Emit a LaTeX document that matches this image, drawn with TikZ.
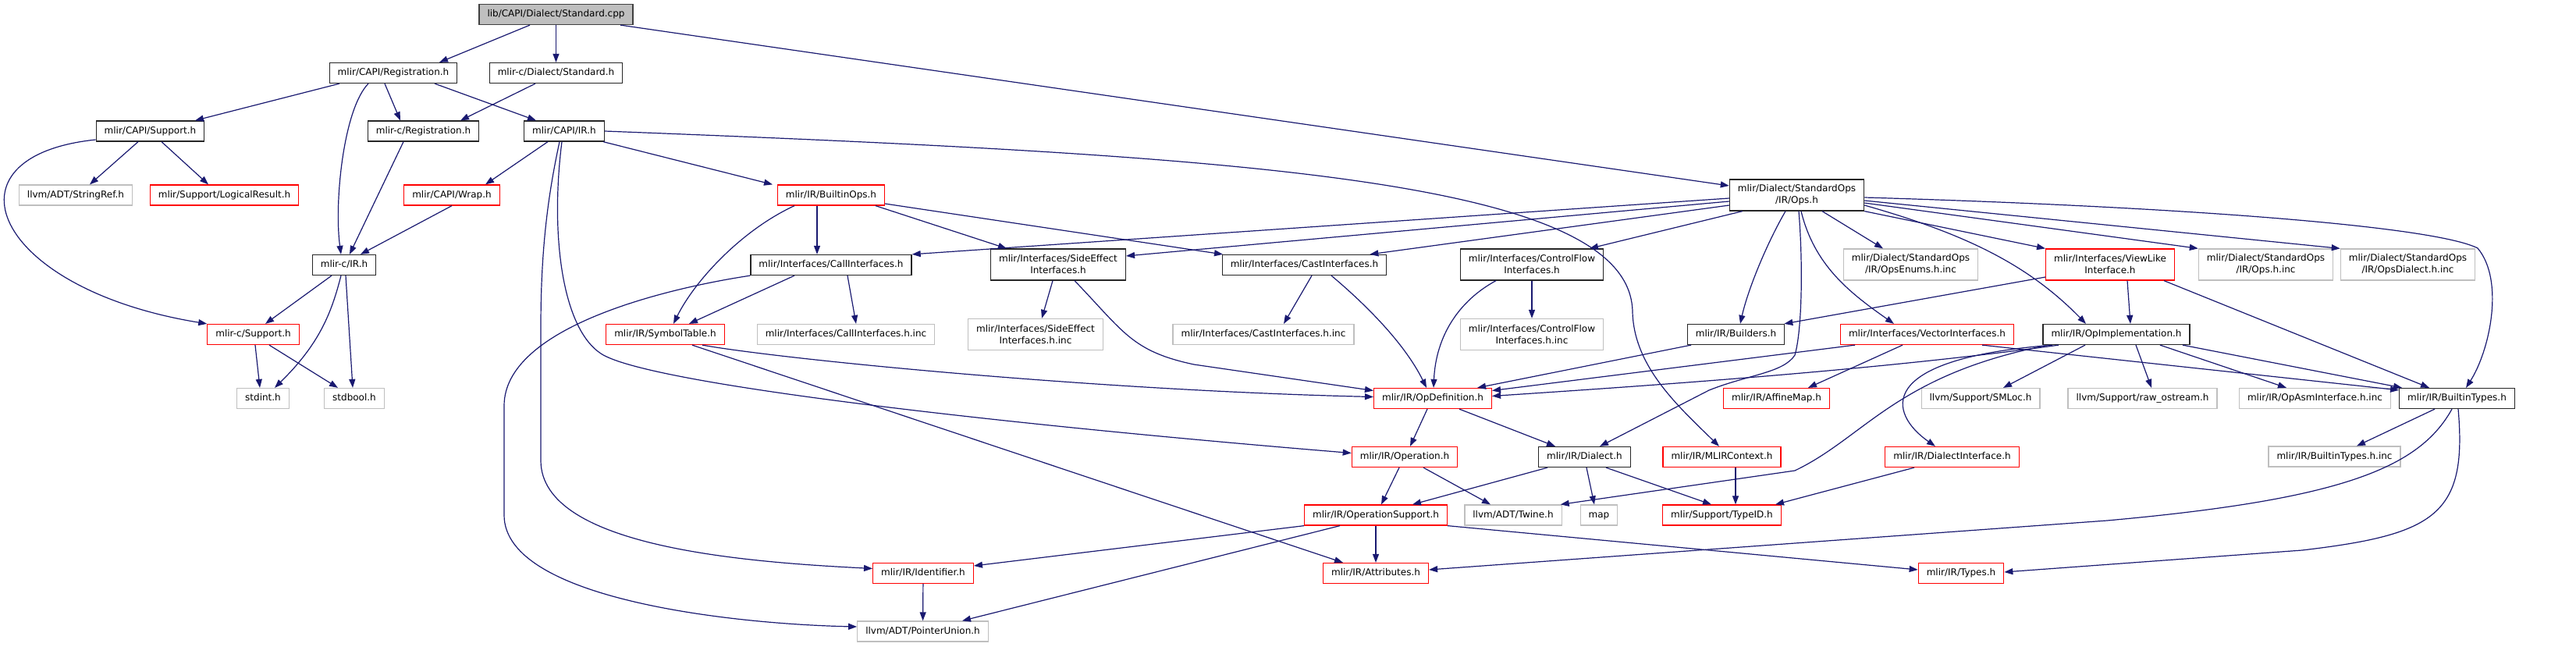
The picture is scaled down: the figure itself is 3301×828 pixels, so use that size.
\documentclass[tikz,border=0pt]{standalone}
\usepackage{fontspec}
\setmainfont{DejaVu Sans}
\usepackage{tikz}
\usetikzlibrary{
  arrows.meta,
  positioning,
  calc
}
\definecolor{navyline}{HTML}{191970}
\definecolor{boxgray}{HTML}{BFBFBF}

\begin{document}
\begin{tikzpicture}[
    x=1pt, y=-1pt,
    >={Triangle[length=11pt,width=8pt]},
    box/.style={draw, line width=1.25pt, inner xsep=10.5pt, inner ysep=2pt,
      font=\fontsize{12}{15}\selectfont},
    one/.style={box, minimum height=26pt, text height=9pt, text depth=2.6pt},
    two/.style={box, align=center, minimum height=40pt},
    ink/.style={draw=black!85},
    trunc/.style={draw=red},
    ext/.style={draw=boxgray},
    src/.style={draw=black!75, fill=boxgray},
    dep/.style={->, draw=navyline, line width=1.2pt}
    ]

    \useasboundingbox (0,0) rectangle (3301,828);

    % linha 0 e 1
    \node[one, src] (stdCpp) at (712.5,18.5) {lib/CAPI/Dialect/Standard.cpp};
    \node[one, ink] (capiReg) at (504,93.5) {mlir/CAPI/Registration.h};
    \node[one, ink] (cStd) at (712.5,93.5) {mlir-c/Dialect/Standard.h};

    % linha 2
    \node[one, ink] (capiSup) at (192.5,168) {mlir/CAPI/Support.h};
    \node[one, ink] (cReg) at (542.5,168) {mlir-c/Registration.h};
    \node[one, ink] (capiIR) at (723,168) {mlir/CAPI/IR.h};

    % linha 3
    \node[one, ext] (strRef) at (97,250) {llvm/ADT/StringRef.h};
    \node[one, trunc] (logRes) at (287.5,250) {mlir/Support/LogicalResult.h};
    \node[one, trunc] (wrapH) at (579,250) {mlir/CAPI/Wrap.h};
    \node[one, trunc] (bOps) at (1065,250) {mlir/IR/BuiltinOps.h};
    \node[two, ink] (opsH) at (2302.5,250) {mlir/Dialect/StandardOps\\/IR/Ops.h};

    % linha 4
    \node[one, ink] (cIR) at (441,339.5) {mlir-c/IR.h};
    \node[one, ink] (callIf) at (1065,339.5) {mlir/Interfaces/CallInterfaces.h};
    \node[two, ink] (sideEff) at (1356,339) {mlir/Interfaces/SideEffect\\Interfaces.h};
    \node[one, ink] (castIf) at (1671.5,339.5) {mlir/Interfaces/CastInterfaces.h};
    \node[two, ink] (cfIf) at (1963,339) {mlir/Interfaces/ControlFlow\\Interfaces.h};
    \node[two, ext] (opsEnums) at (2448.5,339) {mlir/Dialect/StandardOps\\/IR/OpsEnums.h.inc};
    \node[two, trunc] (viewLike) at (2704,339) {mlir/Interfaces/ViewLike\\Interface.h};
    \node[two, ext] (opsInc) at (2903.5,339) {mlir/Dialect/StandardOps\\/IR/Ops.h.inc};
    \node[two, ext] (opsDial) at (3085.5,339) {mlir/Dialect/StandardOps\\/IR/OpsDialect.h.inc};

    % linha 5
    \node[one, trunc] (cSup) at (324.5,428.5) {mlir-c/Support.h};
    \node[one, trunc] (symTab) at (852.5,428.5) {mlir/IR/SymbolTable.h};
    \node[one, ext] (callInc) at (1084,428.5) {mlir/Interfaces/CallInterfaces.h.inc};
    \node[two, ext] (sideInc) at (1327,428.5) {mlir/Interfaces/SideEffect\\Interfaces.h.inc};
    \node[one, ext] (castInc) at (1619,428.5) {mlir/Interfaces/CastInterfaces.h.inc};
    \node[two, ext] (cfInc) at (1963,428.5) {mlir/Interfaces/ControlFlow\\Interfaces.h.inc};
    \node[one, ink] (builders) at (2224.5,428.5) {mlir/IR/Builders.h};
    \node[one, trunc] (vecIf) at (2469.5,428.5) {mlir/Interfaces/VectorInterfaces.h};
    \node[one, ink] (opImpl) at (2712,428.5) {mlir/IR/OpImplementation.h};

    % linha 6
    \node[one, ext] (stdInt) at (337,510.5) {stdint.h};
    \node[one, ext] (stdBool) at (454,510.5) {stdbool.h};
    \node[one, trunc] (opDef) at (1836,510.5) {mlir/IR/OpDefinition.h};
    \node[one, trunc] (affine) at (2276.5,510.5) {mlir/IR/AffineMap.h};
    \node[one, ext] (smLoc) at (2538,510.5) {llvm/Support/SMLoc.h};
    \node[one, ext] (rawOs) at (2745.5,510.5) {llvm/Support/raw\_ostream.h};
    \node[one, ext] (asmInc) at (2966.5,510.5) {mlir/IR/OpAsmInterface.h.inc};
    \node[one, ink] (bTypes) at (3148.5,510.5) {mlir/IR/BuiltinTypes.h};

    % linha 7
    \node[one, trunc] (operation) at (1800,585.5) {mlir/IR/Operation.h};
    \node[one, ink] (dialect) at (2030.5,585.5) {mlir/IR/Dialect.h};
    \node[one, trunc] (mlirCtx) at (2206.5,585.5) {mlir/IR/MLIRContext.h};
    \node[one, trunc] (dialIf) at (2501.5,585.5) {mlir/IR/DialectInterface.h};
    \node[one, ext] (bTypesInc) at (2991.5,585) {mlir/IR/BuiltinTypes.h.inc};

    % linha 8
    \node[one, trunc] (opSup) at (1763,660) {mlir/IR/OperationSupport.h};
    \node[one, ext] (twine) at (1939,660) {llvm/ADT/Twine.h};
    \node[one, ext] (mapH) at (2049,660) {map};
    \node[one, trunc] (typeId) at (2206.5,660) {mlir/Support/TypeID.h};

    % linha 9 e 10
    \node[one, trunc] (ident) at (1183,734.5) {mlir/IR/Identifier.h};
    \node[one, trunc] (attrs) at (1763,734.5) {mlir/IR/Attributes.h};
    \node[one, trunc] (types) at (2513,734.5) {mlir/IR/Types.h};
    \node[one, ext] (ptrU) at (1182.5,809) {llvm/ADT/PointerUnion.h};

    % ligacoes do topo
    \draw[dep] ([xshift=-33.5pt]stdCpp.south) -- ([xshift=59pt]capiReg.north);
    \draw[dep] (stdCpp) -- (cStd);
    \draw[dep] ([xshift=82.5pt]stdCpp.south) -- ([yshift=12pt]opsH.west);

    \draw[dep] ([xshift=-69pt]capiReg.south) -- ([xshift=57.5pt]capiSup.north);
    \draw[dep] ([xshift=-32pt]capiReg.south)
      .. controls (440,140) and (428,260) .. ([xshift=-4pt]cIR.north);
    \draw[dep] ([xshift=-11pt]capiReg.south) -- ([xshift=-29.5pt]cReg.north);
    \draw[dep] ([xshift=53pt]capiReg.south) -- ([xshift=-36pt]capiIR.north);
    \draw[dep] ([xshift=-26.5pt]cStd.south) -- ([xshift=47.5pt]cReg.north);

    % CAPI/Support.h
    \draw[dep] ([xshift=-15.5pt]capiSup.south) -- ([xshift=18pt]strRef.north);
    \draw[dep] ([xshift=14.5pt]capiSup.south) -- ([xshift=-20.5pt]logRes.north);
    \draw[dep] ([yshift=-11pt]capiSup.west)
      .. controls (-80,200) and (-10,370) .. (cSup.north west);

    % CAPI/IR.h
    \draw[dep] ([xshift=-21pt]capiIR.south) -- ([xshift=43pt]wrapH.north);
    \draw[dep] ([xshift=50pt]capiIR.south) -- ([xshift=-75pt]bOps.north);
    \draw[dep] (capiIR.east)
      .. controls (1600,200) and (2090,230) .. (2092,400)
      .. controls (2094,470) and (2150,520) .. ([xshift=-3.5pt]mlirCtx.north);
    \draw[dep] ([xshift=-6pt]capiIR.south)
      .. controls (700,260) and (693,330) .. (693,420) -- (693,590)
      .. controls (693,700) and (950,720) .. ([yshift=6pt]ident.west);
    \draw[dep] ([xshift=-3pt]capiIR.south)
      .. controls (705,300) and (720,420) .. (770,453)
      .. controls (830,493) and (1300,545) .. ([yshift=5pt]operation.west);

    \draw[dep] (wrapH.south) -- ([xshift=21pt]cIR.north);
    \draw[dep] ([xshift=-25.5pt]cReg.south) -- ([xshift=7pt]cIR.north);

    % mlir-c
    \draw[dep] ([xshift=-16pt]cIR.south) -- ([xshift=15.5pt]cSup.north);
    \draw[dep] ([xshift=-4pt]cIR.south)
      .. controls (425,400) and (410,440) .. ([xshift=15pt]stdInt.north);
    \draw[dep] ([xshift=2pt]cIR.south) -- ([xshift=-2pt]stdBool.north);
    \draw[dep] ([xshift=2.5pt]cSup.south) -- ([xshift=-4pt]stdInt.north);
    \draw[dep] ([xshift=20.5pt]cSup.south) -- ([xshift=-21pt]stdBool.north);

    % BuiltinOps.h
    \draw[dep] ([xshift=-18pt]bOps.south) -- ([xshift=-18pt]callIf.north);
    \draw[dep] ([xshift=-47pt]bOps.south)
      .. controls (950,295) and (890,360) .. ([xshift=10.5pt]symTab.north);
    \draw[dep] ([xshift=57pt]bOps.south) -- ([xshift=-66pt]sideEff.north);
    \draw[dep] ([yshift=-11pt]bOps.east) -- ([xshift=-104.5pt]castIf.north);

    % interfaces
    \draw[dep] ([xshift=-47pt]callIf.south) -- ([xshift=30.5pt]symTab.north);
    \draw[dep] ([xshift=21pt]callIf.south) -- ([xshift=13pt]callInc.north);
    \draw[dep] (callIf.south west)
      .. controls (850,370) and (646,420) .. (646,520) -- (646,660)
      .. controls (646,770) and (950,800) .. ([yshift=6pt]ptrU.west);
    \draw[dep] ([xshift=-7pt]sideEff.south) -- ([xshift=8pt]sideInc.north);
    \draw[dep] ([xshift=21pt]sideEff.south)
      .. controls (1440,425) and (1450,450) .. (1530,467) -- ([yshift=10pt]opDef.west);
    \draw[dep] ([xshift=9.5pt]castIf.south) -- ([xshift=26pt]castInc.north);
    \draw[dep] ([xshift=34.5pt]castIf.south)
      .. controls (1750,390) and (1800,440) .. ([xshift=-8pt]opDef.north);
    \draw[dep] (cfIf) -- (cfInc);
    \draw[dep] ([xshift=-46pt]cfIf.south)
      .. controls (1870,385) and (1840,430) .. ([xshift=1pt]opDef.north);

    \draw[dep] ([xshift=47.5pt]symTab.south)
      .. controls (1000,460) and (1400,500) .. ([yshift=2pt]opDef.west);
    \draw[dep] ([xshift=34.5pt]symTab.south) -- ([xshift=-42pt]attrs.north);

    % Ops.h
    \draw[dep] ([yshift=-4pt]opsH.west) -- (callIf.north east);
    \draw[dep] ([yshift=-8pt]opsH.west) -- ([yshift=11pt]sideEff.east);
    \draw[dep] ([yshift=-13pt]opsH.west) -- ([xshift=-22pt]castIf.north east);
    \draw[dep] ([xshift=17pt]opsH.south west) -- ([xshift=74pt]cfIf.north);
    \draw[dep] ([xshift=-14.5pt]opsH.south)
      .. controls (2265,310) and (2240,370) .. ([xshift=5.5pt]builders.north);
    \draw[dep] ([xshift=2.5pt]opsH.south)
      .. controls (2310,330) and (2310,420) .. (2300,455)
      .. controls (2285,478) and (2240,480) .. (2190,500) -- ([xshift=19.5pt]dialect.north);
    \draw[dep] ([xshift=5.5pt]opsH.south)
      .. controls (2325,340) and (2370,375) .. ([xshift=-42.5pt]vecIf.north);
    \draw[dep] ([xshift=32.5pt]opsH.south) -- ([xshift=-35.5pt]opsEnums.north);
    \draw[dep] (opsH.south east) -- (viewLike.north west);
    \draw[dep] ([yshift=-13pt]opsH.east)
      .. controls (2520,300) and (2600,340) .. ([xshift=-39pt]opImpl.north);
    \draw[dep] ([yshift=-10pt]opsH.east) -- (opsInc.north west);
    \draw[dep] ([yshift=-7pt]opsH.east) -- (opsDial.north west);
    \draw[dep] ([yshift=-3pt]opsH.east)
      .. controls (2800,265) and (3120,290) .. (3175,318)
      .. controls (3210,360) and (3190,450) .. ([xshift=11.5pt]bTypes.north);

    % ViewLike, Builders, VectorInterfaces
    \draw[dep] ([yshift=-16pt]viewLike.west) -- ([xshift=-1pt]builders.north east);
    \draw[dep] ([xshift=22pt]viewLike.south) -- ([xshift=18pt]opImpl.north);
    \draw[dep] ([xshift=69pt]viewLike.south) -- ([xshift=-35.5pt]bTypes.north);
    \draw[dep] ([xshift=-57.5pt]builders.south) -- ([xshift=-19pt]opDef.north east);
    \draw[dep] ([xshift=-92.5pt]vecIf.south) -- ([yshift=10pt]opDef.east);
    \draw[dep] ([xshift=-31.5pt]vecIf.south) -- ([xshift=40.5pt]affine.north);
    \draw[dep] ([xshift=70.5pt]vecIf.south) -- ([yshift=-3pt]bTypes.north west);

    % OpImplementation.h
    \draw[dep] ([xshift=-40pt]opImpl.south) -- ([xshift=29pt]smLoc.north);
    \draw[dep] ([xshift=25pt]opImpl.south) -- ([xshift=11.5pt]rawOs.north);
    \draw[dep] ([xshift=56pt]opImpl.south) -- ([xshift=-36.5pt]asmInc.north);
    \draw[dep] ([xshift=85pt]opImpl.south) -- ([xshift=4pt]bTypes.north west);
    \draw[dep] ([xshift=-74pt]opImpl.south)
      .. controls (2400,475) and (2100,495) .. ([yshift=3pt]opDef.east);
    \draw[dep] ([xshift=-82pt]opImpl.south)
      .. controls (2400,460) and (2420,530) .. ([xshift=-21.5pt]dialIf.north);
    \draw[dep] ([xshift=-87pt]opImpl.south)
      .. controls (2430,480) and (2390,560) .. (2300,603) -- ([xshift=-2pt]twine.north east);

    % OpDefinition.h e abaixo
    \draw[dep] ([xshift=-7pt]opDef.south) -- ([xshift=7pt]operation.north);
    \draw[dep] ([xshift=34pt]opDef.south) -- ([xshift=-37.5pt]dialect.north);
    \draw[dep] ([xshift=-7pt]operation.south) -- ([xshift=7pt]opSup.north);
    \draw[dep] ([xshift=24pt]operation.south) -- ([xshift=-29pt]twine.north);
    \draw[dep] ([xshift=-47.5pt]dialect.south) -- ([xshift=47pt]opSup.north);
    \draw[dep] ([xshift=2.5pt]dialect.south) -- ([xshift=-6pt]mapH.north);
    \draw[dep] ([xshift=27.5pt]dialect.south) -- ([xshift=-13.5pt]typeId.north);
    \draw[dep] ([xshift=17.5pt]mlirCtx.south) -- ([xshift=17.5pt]typeId.north);
    \draw[dep] ([xshift=-48.5pt]dialIf.south) -- ([xshift=68.5pt]typeId.north);

    \draw[dep] (opSup) -- (attrs);
    \draw[dep] (opSup.south west) -- ([yshift=9.5pt]ident.east);
    \draw[dep] ([xshift=-46pt]opSup.south) -- ([xshift=50.5pt]ptrU.north);
    \draw[dep] (opSup.south east) -- ([yshift=4.5pt]types.west);
    \draw[dep] (ident) -- (ptrU);

    % BuiltinTypes.h
    \draw[dep] ([xshift=-28.5pt]bTypes.south) -- ([xshift=28.5pt]bTypesInc.north);
    \draw[dep] ([xshift=-6.5pt]bTypes.south)
      .. controls (3100,600) and (3000,640) .. (2700,667) -- ([yshift=4.5pt]attrs.east);
    \draw[dep] ([xshift=1.5pt]bTypes.south)
      .. controls (3162,660) and (3120,685) .. (2950,705) -- ([yshift=1.5pt]types.east);

\end{tikzpicture}
\end{document}
